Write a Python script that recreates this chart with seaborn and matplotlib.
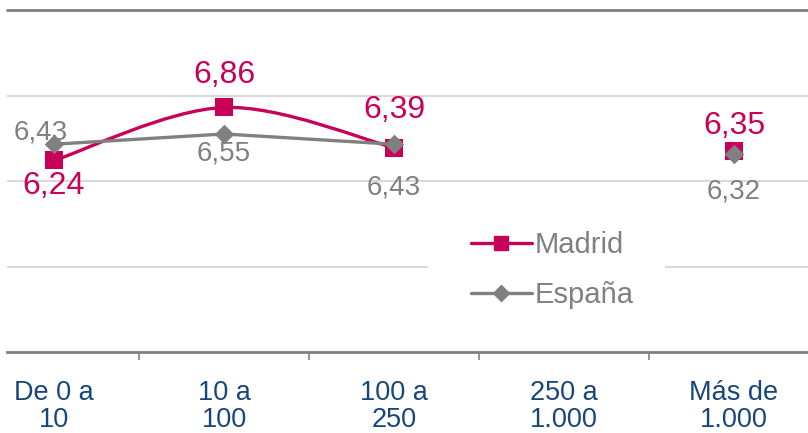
import seaborn as sns
from matplotlib import pyplot as plt
from matplotlib.path import Path
from matplotlib.patches import PathPatch, Rectangle
from matplotlib.lines import Line2D
import numpy as np
import pandas as pd

sns.set_style("white")
plt.rcParams['font.family'] = ['Liberation Sans', 'DejaVu Sans']

categorias = ["De 0 a\n10", "10 a\n100", "100 a\n250", "250 a\n1.000", "Más de\n1.000"]
madrid = [6.24, 6.86, 6.39, np.nan, 6.35]
espana = [6.43, 6.55, 6.43, np.nan, 6.32]

rojo = "#C8005A"
gris = "#808080"
azul = "#17477A"

df = pd.DataFrame({"x": range(len(categorias)), "Madrid": madrid, "España": espana})

fig = plt.figure(figsize=(8.08, 4.33), dpi=100)
ax = fig.add_axes([7 / 808, 81 / 433, 801 / 808, 342 / 433])

# gridlines
for v in [5, 6, 7]:
    ax.axhline(v, color="#D9D9D9", lw=1.5, zorder=0)
ax.axhline(8, color=gris, lw=2, zorder=0, clip_on=False)

# Madrid smooth line (first three points)
seg = df.iloc[:3]
pts = np.column_stack([seg["x"], seg["Madrid"]])
verts = [tuple(pts[0])]
codes = [Path.MOVETO]
n = len(pts)
for i in range(n - 1):
    p0 = pts[max(i - 1, 0)]
    p1 = pts[i]
    p2 = pts[i + 1]
    p3 = pts[min(i + 2, n - 1)]
    c1 = p1 + (p2 - p0) / 6
    c2 = p2 - (p3 - p1) / 6
    verts += [tuple(c1), tuple(c2), tuple(p2)]
    codes += [Path.CURVE4] * 3
ax.add_patch(PathPatch(Path(verts, codes), fill=False, edgecolor=rojo, lw=2.4, zorder=2))
sns.scatterplot(data=df, x="x", y="Madrid", marker="s", s=150, color=rojo,
                edgecolor=rojo, linewidth=0, ax=ax, zorder=3)

# España straight line
sns.lineplot(data=seg, x="x", y="España", color=gris, lw=2.4, ax=ax, zorder=4)
sns.scatterplot(data=df, x="x", y="España", marker="D", s=100, color=gris,
                edgecolor=gris, linewidth=0, ax=ax, zorder=5)

def fmt(v):
    return f"{v:.2f}".replace(".", ",")

off_m = [-26, 32, 38, None, 25]
off_e = [12, -20, -43, None, -38]
dx_e = [-13, 0, 0, None, 0]
for i in range(len(categorias)):
    if not np.isnan(madrid[i]):
        ax.annotate(fmt(madrid[i]), (i, madrid[i]), xytext=(0, off_m[i]),
                    textcoords="offset pixels", ha="center", va="center",
                    color=rojo, fontsize=23, zorder=6)
    if not np.isnan(espana[i]):
        ax.annotate(fmt(espana[i]), (i, espana[i]), xytext=(dx_e[i], off_e[i]),
                    textcoords="offset pixels", ha="center", va="center",
                    color=gris, fontsize=20, zorder=6)

ax.set_xlim((7 - 54) / 170, (808 - 54) / 170)
ax.set_ylim(4, 8)
ax.set_xticks(range(len(categorias)))
ax.set_xticklabels(categorias, color=azul, fontsize=19.5, linespacing=1.05)
ax.set_xticks([0.5, 1.5, 2.5, 3.5], minor=True)
ax.tick_params(axis="x", which="major", length=0, pad=20)
ax.tick_params(axis="x", which="minor", length=6, width=1.2, color=gris, direction="out", bottom=True)
ax.set_yticks([])
ax.set_xlabel("")
ax.set_ylabel("")
for s in ["left", "right", "top"]:
    ax.spines[s].set_visible(False)
ax.spines["bottom"].set_color(gris)
ax.spines["bottom"].set_linewidth(2)

# white box behind the legend
fig.patches.append(Rectangle((428 / 808, (433 - 322) / 433), 237 / 808, 100 / 433,
                             transform=fig.transFigure, facecolor="white",
                             edgecolor="none", zorder=1))

handles = [
    Line2D([0], [0], color=rojo, lw=2.4, marker="s", markersize=10),
    Line2D([0], [0], color=gris, lw=2.4, marker="D", markersize=8),
]
leg = fig.legend(handles, ["Madrid", "España"], loc="center left",
                 bbox_to_anchor=(462 / 808, (433 - 270) / 433),
                 frameon=False, fontsize=21, handlelength=2.1, handletextpad=0.1,
                 labelspacing=0.75, borderpad=0.3, borderaxespad=0)
leg.set_zorder(2)
for t in leg.get_texts():
    t.set_color(gris)

fig.savefig("out.png", dpi=100)
